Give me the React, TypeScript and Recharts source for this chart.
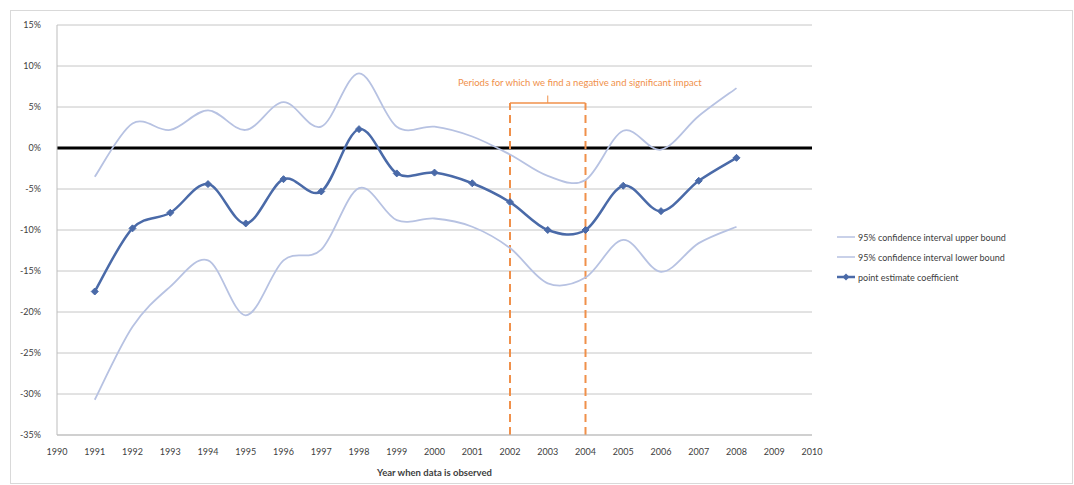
import React from 'react';
import {
  LineChart,
  Line,
  XAxis,
  YAxis,
  CartesianGrid,
  ReferenceLine,
  ReferenceDot,
} from 'recharts';

const years = [1991, 1992, 1993, 1994, 1995, 1996, 1997, 1998, 1999, 2000, 2001, 2002, 2003, 2004, 2005, 2006, 2007, 2008];
const upperBound = [-3.5, 3.0, 2.2, 4.6, 2.2, 5.6, 2.6, 9.1, 2.6, 2.6, 1.4, -0.8, -3.4, -3.9, 2.1, -0.2, 3.9, 7.3];
const lowerBound = [-30.7, -21.8, -16.9, -13.7, -20.4, -13.7, -12.4, -4.9, -8.8, -8.6, -9.6, -12.2, -16.5, -15.8, -11.2, -15.1, -11.6, -9.6];
const pointEstimate = [-17.5, -9.8, -7.9, -4.4, -9.2, -3.8, -5.3, 2.3, -3.1, -3.0, -4.3, -6.6, -10.0, -10.0, -4.6, -7.7, -4.0, -1.2];

const xTicks = [1990, 1991, 1992, 1993, 1994, 1995, 1996, 1997, 1998, 1999, 2000, 2001, 2002, 2003, 2004, 2005, 2006, 2007, 2008, 2009, 2010];
const yTicks = [-35, -30, -25, -20, -15, -10, -5, 0, 5, 10, 15];

const periodStart = 2002;
const periodEnd = 2004;
const periodNote = 'Periods for which we find a negative and significant impact';

const data = years.map((year, i) => ({
  year,
  upper: upperBound[i],
  lower: lowerBound[i],
  estimate: pointEstimate[i],
}));

const FONT = 'Lato, "Open Sans", sans-serif';
const BOUND_COLOR = '#b7c2e2';
const EST_COLOR = '#4a6aa8';
const NOTE_COLOR = '#f0904a';

// smoothed line like a spreadsheet "smoothed line" (Catmull-Rom bezier)
const smoothCurve = (context: any) => {
  let pts: [number, number][] = [];
  return {
    areaStart() {},
    areaEnd() {},
    lineStart() {
      pts = [];
    },
    lineEnd() {
      if (!pts.length) return;
      context.moveTo(pts[0][0], pts[0][1]);
      for (let i = 0; i < pts.length - 1; i++) {
        const p0 = pts[Math.max(i - 1, 0)];
        const p1 = pts[i];
        const p2 = pts[i + 1];
        const p3 = pts[Math.min(i + 2, pts.length - 1)];
        context.bezierCurveTo(
          p1[0] + (p2[0] - p0[0]) / 6,
          p1[1] + (p2[1] - p0[1]) / 6,
          p2[0] - (p3[0] - p1[0]) / 6,
          p2[1] - (p3[1] - p1[1]) / 6,
          p2[0],
          p2[1]
        );
      }
    },
    point(x: number, y: number) {
      pts.push([x, y]);
    },
  };
};

const Diamond = (props: any) => {
  const { cx, cy } = props;
  if (cx == null || cy == null) return null;
  const r = 3.5;
  return (
    <polygon
      points={`${cx},${cy - r} ${cx + r},${cy} ${cx},${cy + r} ${cx - r},${cy}`}
      fill={EST_COLOR}
      stroke={EST_COLOR}
    />
  );
};

const legendItems = [
  { label: '95% confidence interval upper bound', color: BOUND_COLOR, marker: false },
  { label: '95% confidence interval lower bound', color: BOUND_COLOR, marker: false },
  { label: 'point estimate coefficient', color: EST_COLOR, marker: true },
];

const LegendBox = () => (
  <div
    style={{
      position: 'absolute',
      left: 836,
      top: 227,
      fontFamily: FONT,
      fontSize: 9,
      color: '#404040',
    }}
  >
    {legendItems.map((it) => (
      <div key={it.label} style={{ display: 'flex', alignItems: 'center', height: 20 }}>
        <svg width={20} height={10} style={{ marginRight: 2 }}>
          <line x1={1} y1={5} x2={19} y2={5} stroke={it.color} strokeWidth={it.marker ? 2.5 : 1.5} />
          {it.marker && <polygon points="10,1.5 13.5,5 10,8.5 6.5,5" fill={EST_COLOR} />}
        </svg>
        <span>{it.label}</span>
      </div>
    ))}
  </div>
);

const App = () => {
  return (
    <div style={{ position: 'absolute', left: 0, top: 0, width: 1074, height: 485, background: '#fff' }}>
      <div
        style={{
          position: 'absolute',
          left: 10,
          top: 10,
          width: 1063,
          height: 474,
          border: '1px solid #d9d9d9',
          boxSizing: 'border-box',
        }}
      />
      <div style={{ position: 'absolute', left: 0, top: 0 }}>
        <LineChart
          width={1074}
          height={485}
          data={data}
          margin={{ top: 25, right: 262, left: 0, bottom: 5 }}
          style={{ fontFamily: FONT }}
        >
          <CartesianGrid vertical={false} stroke="#c6c6c6" strokeWidth={1} />
          <XAxis
            dataKey="year"
            type="number"
            domain={[1990, 2010]}
            ticks={xTicks}
            interval={0}
            tickLine={false}
            axisLine={{ stroke: '#bdbdbd' }}
            tick={{ fontSize: 9, fill: '#404040', fontFamily: FONT }}
            tickMargin={8}
            height={45}
            label={{
              value: 'Year when data is observed',
              position: 'insideBottom',
              offset: 4,
              fontSize: 9.5,
              fontWeight: 'bold',
              fill: '#404040',
              fontFamily: FONT,
            }}
          />
          <YAxis
            type="number"
            domain={[-35, 15]}
            ticks={yTicks}
            interval={0}
            width={57}
            tickLine={false}
            axisLine={{ stroke: '#bdbdbd' }}
            tick={{ fontSize: 9, fill: '#404040', fontFamily: FONT }}
            tickMargin={10}
            tickFormatter={(v: number) => `${v}%`}
          />
          <ReferenceLine y={0} stroke="#000" strokeWidth={3} />

          {/* bracket marking the significant period */}
          <ReferenceLine
            segment={[{ x: periodStart, y: -35 }, { x: periodStart, y: 5.5 }]}
            stroke={NOTE_COLOR}
            strokeWidth={2}
            strokeDasharray="8 5"
          />
          <ReferenceLine
            segment={[{ x: periodEnd, y: -35 }, { x: periodEnd, y: 5.5 }]}
            stroke={NOTE_COLOR}
            strokeWidth={2}
            strokeDasharray="8 5"
          />
          <ReferenceLine
            segment={[{ x: periodStart, y: 5.5 }, { x: periodEnd, y: 5.5 }]}
            stroke={NOTE_COLOR}
            strokeWidth={1.5}
          />
          <ReferenceLine
            segment={[{ x: (periodStart + periodEnd) / 2, y: 5.5 }, { x: (periodStart + periodEnd) / 2, y: 6.4 }]}
            stroke={NOTE_COLOR}
            strokeWidth={1}
          />
          <ReferenceDot
            x={2003.85}
            y={8}
            r={0}
            stroke="none"
            label={{ value: periodNote, position: 'center', fontSize: 9.5, fill: NOTE_COLOR, fontFamily: FONT }}
          />

          <Line
            dataKey="upper"
            type={smoothCurve as any}
            stroke={BOUND_COLOR}
            strokeWidth={1.8}
            dot={false}
            activeDot={false}
            isAnimationActive={false}
          />
          <Line
            dataKey="lower"
            type={smoothCurve as any}
            stroke={BOUND_COLOR}
            strokeWidth={1.8}
            dot={false}
            activeDot={false}
            isAnimationActive={false}
          />
          <Line
            dataKey="estimate"
            type={smoothCurve as any}
            stroke={EST_COLOR}
            strokeWidth={2.5}
            dot={<Diamond />}
            activeDot={false}
            isAnimationActive={false}
          />
        </LineChart>
      </div>
      <LegendBox />
    </div>
  );
};

export default App;
